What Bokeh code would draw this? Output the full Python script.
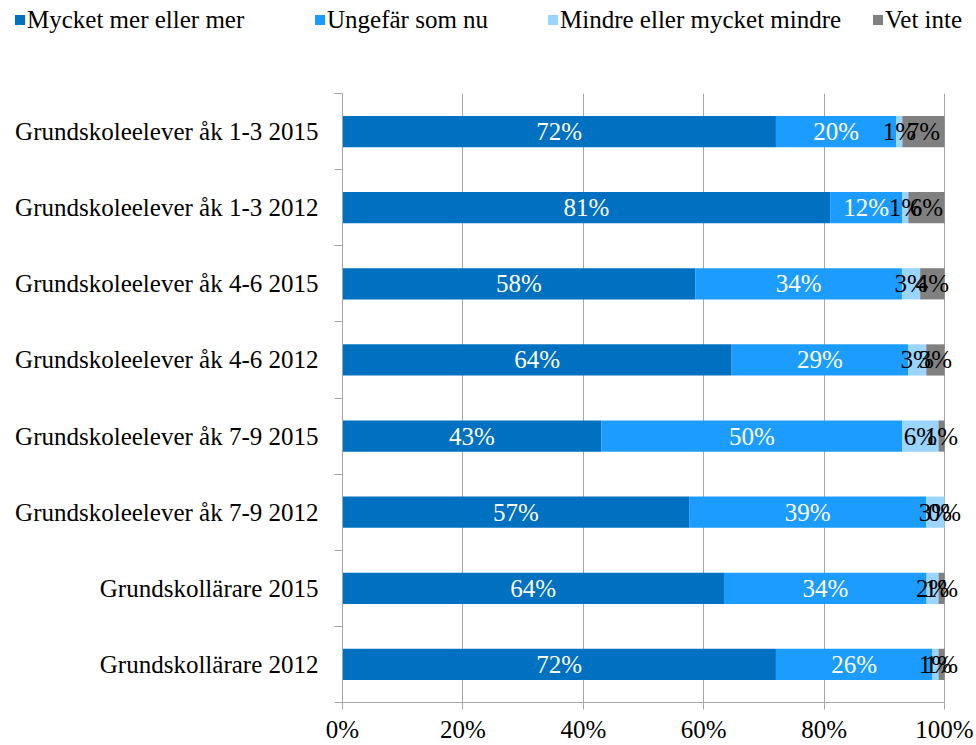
from bokeh.plotting import figure
from bokeh.layouts import column
from bokeh.models import ColumnDataSource, Range1d, FixedTicker, NumeralTickFormatter, Div
from bokeh.core.properties import value
from bokeh.embed import file_html
from bokeh.resources import INLINE

categories = [
    "Grundskoleelever åk 1-3 2015",
    "Grundskoleelever åk 1-3 2012",
    "Grundskoleelever åk 4-6 2015",
    "Grundskoleelever åk 4-6 2012",
    "Grundskoleelever åk 7-9 2015",
    "Grundskoleelever åk 7-9 2012",
    "Grundskollärare 2015",
    "Grundskollärare 2012",
]
series_names = ["Mycket mer eller mer", "Ungefär som nu", "Mindre eller mycket mindre", "Vet inte"]
mycket_mer = [72, 81, 58, 64, 43, 57, 64, 72]
ungefar = [20, 12, 34, 29, 50, 39, 34, 26]
mindre = [1, 1, 3, 3, 6, 3, 2, 1]
vet_inte = [7, 6, 4, 3, 1, 0, 1, 1]
x_ticks = [0, 0.2, 0.4, 0.6, 0.8, 1.0]

colors = ["#0070C0", "#1C9CFF", "#99D5FF", "#808080"]
label_colors = ["white", "white", "black", "black"]
legend_left = [15, 315, 548, 873]  # layout: legend item positions (px)
FONT = "Liberation Serif"
FS = "25px"
GRAY = "#A6A6A6"
CSS_FONT = "Liberation Serif, Times New Roman, serif"

series = [mycket_mer, ungefar, mindre, vet_inte]
keys = ["s0", "s1", "s2", "s3"]
n = len(categories)
totals = [sum(s[i] for s in series) for i in range(n)]
ypos = [n - i - 0.5 for i in range(n)]

data = {"y": ypos}
for k, s in zip(keys, series):
    data[k] = [s[i] / totals[i] for i in range(n)]
source = ColumnDataSource(data)

# ---- legend strip (top) ----
items_html = ""
for nm, c, lx in zip(series_names, colors, legend_left):
    items_html += (
        f'<span style="position:absolute;left:{lx}px;top:6px;line-height:28px;white-space:nowrap;'
        f'font-family:{CSS_FONT};font-size:{FS};color:black;">'
        f'<span style="display:inline-block;width:10px;height:10px;background:{c};'
        f'margin-right:2px;vertical-align:middle;position:relative;top:-2px;"></span>{nm}</span>'
    )
legend_html = (
    f'<div style="position:relative;width:976px;height:93px;font-family:{CSS_FONT};'
    f'font-size:{FS};color:black;">{items_html}</div>'
)
lg = Div(text=legend_html, width=976, height=93, margin=0,
         styles={"font-family": CSS_FONT, "font-size": FS})

# ---- main chart ----
p = figure(width=976, height=652,
           x_range=Range1d(0, 634 / 602), y_range=Range1d(0, n),
           output_backend="svg", toolbar_location=None,
           min_border_left=342, min_border_right=0, min_border_top=0, min_border_bottom=42)
p.outline_line_color = None

p.hbar_stack(keys, y="y", height=0.41, source=source, color=colors, line_color=None)

for j, k in enumerate(keys):
    xs, ys, txt = [], [], []
    for i in range(n):
        start = sum(data[kk][i] for kk in keys[:j])
        xs.append(start + data[k][i] / 2)
        ys.append(ypos[i])
        txt.append(f"{series[j][i]}%")
    p.text(x=xs, y=ys, text=txt, text_align="center", text_baseline="middle",
           text_color=label_colors[j], text_font=value(FONT), text_font_size=FS)

# x axis
p.xaxis.ticker = FixedTicker(ticks=x_ticks)
p.xaxis.bounds = (0, 1)
p.xaxis.formatter = NumeralTickFormatter(format="0%")
p.xaxis.axis_line_color = GRAY
p.xaxis.major_tick_line_color = GRAY
p.xaxis.major_tick_in = 0
p.xaxis.major_tick_out = 7
p.xaxis.minor_tick_line_color = None
p.xaxis.minor_tick_out = 0
p.xaxis.major_label_text_font = FONT
p.xaxis.major_label_text_font_size = FS
p.xaxis.major_label_text_color = "black"
p.xaxis.major_label_standoff = 6

# y axis
p.yaxis.ticker = FixedTicker(ticks=ypos, minor_ticks=list(range(n + 1)))
p.yaxis.major_label_overrides = {y: c for y, c in zip(ypos, categories)}
p.yaxis.axis_line_color = GRAY
p.yaxis.major_tick_line_color = None
p.yaxis.major_tick_in = 0
p.yaxis.major_tick_out = 0
p.yaxis.minor_tick_line_color = GRAY
p.yaxis.minor_tick_in = 0
p.yaxis.minor_tick_out = 8
p.yaxis.major_label_text_font = FONT
p.yaxis.major_label_text_font_size = FS
p.yaxis.major_label_text_color = "black"
p.yaxis.major_label_standoff = 16

p.xgrid.ticker = FixedTicker(ticks=x_ticks)
p.xgrid.grid_line_color = GRAY
p.ygrid.grid_line_color = None

layout = column(lg, p, spacing=0)
open("out.html", "w").write(file_html(layout, INLINE))
